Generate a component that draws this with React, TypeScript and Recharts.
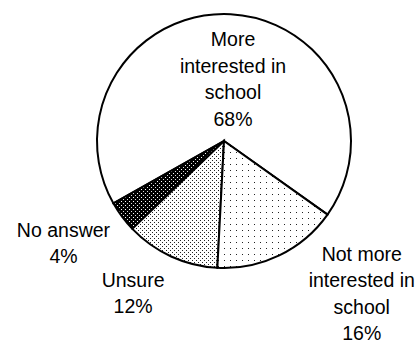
import React from "react";
import { PieChart, Pie, Cell } from "recharts";

// ---- data ----
const categories = [
  "More interested in school",
  "No answer",
  "Unsure",
  "Not more interested in school",
];
const values = [68, 4, 12, 16];
const labelLines = [
  ["More", "interested in", "school"],
  ["No answer"],
  ["Unsure"],
  ["Not more", "interested in", "school"],
];

// ---- styles ----
const fills = ["#ffffff", "url(#pNoAnswer)", "url(#pUnsure)", "url(#pNotMore)"];
// label placement relative to each slice's mid angle (radius factor, angle nudge in degrees)
const labelLayout = [
  { r: 0.493, d: -5.3 },
  { r: 1.497, d: -4.2 },
  { r: 1.394, d: -6.3 },
  { r: 1.618, d: 16.3 },
];

const data = categories.map((name, i) => ({ name, value: values[i] }));

const FONT = "'Liberation Sans', Arial, Helvetica, sans-serif";

const renderLabel = (props: any) => {
  const { cx, cy, midAngle, outerRadius, index, value } = props;
  const L = labelLayout[index];
  const a = ((midAngle + L.d) * Math.PI) / 180;
  const r = outerRadius * L.r;
  const x = cx + r * Math.cos(a);
  const y = cy - r * Math.sin(a);
  const lines = [...labelLines[index], `${value}%`];
  const lh = 26.6;
  const cap = 14.1;
  const top = y - (cap + (lines.length - 1) * lh) / 2;
  return (
    <text
      x={x}
      y={top + cap}
      textAnchor="middle"
      fontFamily={FONT}
      fontSize={19.5}
      fill="#000"
    >
      {lines.map((l, i) => (
        <tspan key={i} x={x} y={top + cap + i * lh}>
          {l}
        </tspan>
      ))}
    </text>
  );
};

export default function App() {
  return (
    <div style={{ position: "absolute", left: 0, top: 0, background: "#fff" }}>
      <svg width={0} height={0} style={{ position: "absolute" }}>
        <defs>
          <pattern id="pNotMore" width={6} height={6} patternUnits="userSpaceOnUse">
            <rect width={6} height={6} fill="#fff" />
            <rect x={2} y={2} width={1} height={1} fill="#222" />
          </pattern>
          <pattern id="pUnsure" width={4} height={4} patternUnits="userSpaceOnUse">
            <rect width={4} height={4} fill="#fff" />
            <rect x={0} y={0} width={1} height={1} fill="#222" />
            <rect x={2} y={2} width={1} height={1} fill="#222" />
          </pattern>
          <pattern id="pNoAnswer" width={4} height={4} patternUnits="userSpaceOnUse">
            <rect width={4} height={4} fill="#000" />
            <rect x={1} y={1} width={1} height={1} fill="#fff" />
            <rect x={3} y={3} width={1} height={1} fill="#ddd" />
          </pattern>
        </defs>
      </svg>
      <PieChart
        width={419}
        height={342}
        margin={{ top: 0, right: 0, bottom: 0, left: 0 }}
      >
        <Pie
          data={data}
          dataKey="value"
          nameKey="name"
          cx={224}
          cy={141}
          outerRadius={127}
          startAngle={-35.4}
          endAngle={324.6}
          stroke="#000"
          strokeWidth={2}
          isAnimationActive={false}
          labelLine={false}
          label={renderLabel}
        >
          {data.map((d, i) => (
            <Cell key={d.name} fill={fills[i]} />
          ))}
        </Pie>
      </PieChart>
    </div>
  );
}
